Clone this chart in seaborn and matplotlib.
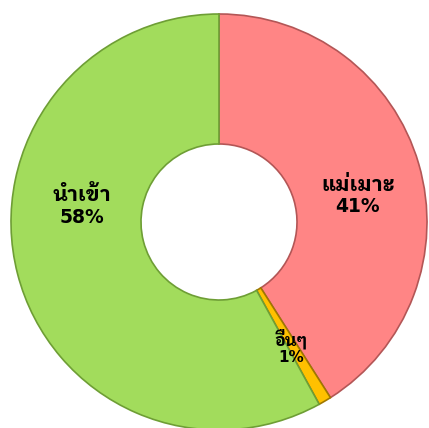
import matplotlib
matplotlib.use("Agg")
import matplotlib.pyplot as plt
import seaborn as sns
import numpy as np

# ข้อมูลสัดส่วน
labels = ['แม่เมาะ', 'อื่นๆ', 'นำเข้า']
values = [41, 1, 58]
colors = ['#FF8585', '#FFC000', '#A2DC5C']
edges = ['#B35656', '#A07800', '#6E9E35']

sns.set_theme(style="white")
plt.rcParams['font.family'] = ['IBM Plex Sans Thai Looped', 'DejaVu Sans']

fig = plt.figure(figsize=(4.29, 4.28), dpi=100)
ax = fig.add_axes([0, 0, 1, 1])

R = 208
wedges, _ = ax.pie(values, colors=colors, startangle=90, counterclock=False,
                   radius=R, center=(0, 0),
                   wedgeprops=dict(width=R - 78, linewidth=1.2))
for w, ec in zip(wedges, edges):
    w.set_edgecolor(ec)

# ตำแหน่งป้าย (ชื่อ / เปอร์เซ็นต์) และขนาดตัวอักษร
pos = [(139, 37, 16), (72, -117, -136), (-137, 27, 5)]
sizes = [15, 12, 15]
pct_sizes = [13.5, 11, 13.5]
for lab, v, (x, y1, y2), fs, ps in zip(labels, values, pos, sizes, pct_sizes):
    ax.text(x, y1, lab, ha='center', va='center', fontsize=fs,
            fontweight='bold', color='black')
    ax.text(x, y2, f'{v}%', ha='center', va='center', fontsize=ps,
            fontweight='bold', color='black', family='DejaVu Sans')

ax.set_xlim(-219, 210)
ax.set_ylim(-206, 222)
ax.set_aspect('equal')
ax.axis('off')
fig.savefig("out.png", dpi=100)
